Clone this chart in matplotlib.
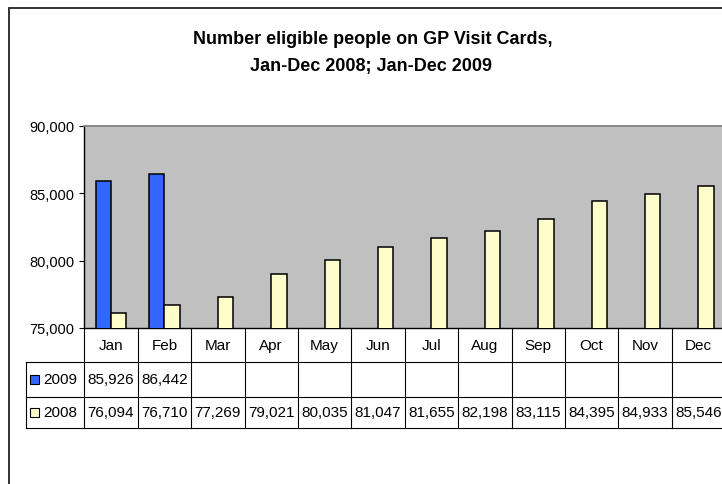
import matplotlib
matplotlib.use("Agg")
import matplotlib.pyplot as plt
import numpy as np
from matplotlib.patches import Rectangle
from matplotlib.lines import Line2D

# ---------------- data ----------------
months = ["Jan", "Feb", "Mar", "Apr", "May", "Jun", "Jul", "Aug", "Sep", "Oct", "Nov", "Dec"]
values_2009 = [85926, 86442, None, None, None, None, None, None, None, None, None, None]
values_2008 = [76094, 76710, 77269, 79021, 80035, 81047, 81655, 82198, 83115, 84395, 84933, 85546]
series_labels = ["2009", "2008"]
y_ticks = [75000, 80000, 85000, 90000]
title_lines = ["Number eligible people on GP Visit Cards,", "Jan-Dec 2008; Jan-Dec 2009"]

# ---------------- styles ----------------
plt.rcParams['font.family'] = ['Liberation Sans', 'DejaVu Sans']
col_2009 = '#3366FF'
col_2008 = '#FFFFCC'
plot_bg = '#C0C0C0'

W, H = 722, 485
fig = plt.figure(figsize=(W / 100, H / 100), dpi=100)
fig.patch.set_facecolor('white')


def fx(x):
    return x / W


def fy(y):
    return 1 - y / H


left, right, top, bottom = 84.3, 725.1, 127.0, 329.0
n = len(months)
colw = (right - left) / n

ax = fig.add_axes([fx(left), fy(bottom), (right - left) / W, (bottom - top) / H])
ax.set_facecolor(plot_bg)

x = np.arange(n)
bw = 0.29
x09 = [i for i, v in enumerate(values_2009) if v is not None]
v09 = [v for v in values_2009 if v is not None]
ax.bar(np.array(x09) - bw / 2, v09, width=bw, color=col_2009, edgecolor='black', linewidth=1.1, zorder=3)
ax.bar(x + bw / 2, values_2008, width=bw, color=col_2008, edgecolor='black', linewidth=1.1, zorder=3)

ax.set_xlim(-0.5, n - 0.5)
ax.set_ylim(y_ticks[0], y_ticks[-1])
ax.set_xticks([])
ax.set_yticks(y_ticks)
ax.set_yticklabels([f"{t:,}" for t in y_ticks])
ax.tick_params(axis='y', direction='out', length=3.6, width=0.8, pad=3.5, labelsize=10.5, colors='black')
for s in ['left', 'bottom']:
    ax.spines[s].set_color('black')
    ax.spines[s].set_linewidth(1.0)
ax.spines['top'].set_color('#808080')
ax.spines['top'].set_linewidth(1.3)
ax.spines['right'].set_color('#808080')

# ---------------- data table ----------------
row_y = [329.0, 363.0, 398.0, 429.0]
tab_left = 26.0
lc = 'black'
lw = 0.8


def hline(y, x0, x1):
    fig.add_artist(Line2D([fx(x0), fx(x1)], [fy(y), fy(y)], transform=fig.transFigure, color=lc, lw=lw))


def vline(xp, y0, y1):
    fig.add_artist(Line2D([fx(xp), fx(xp)], [fy(y0), fy(y1)], transform=fig.transFigure, color=lc, lw=lw))


for y in row_y[1:]:
    hline(y, tab_left, right + 5)
for i in range(n + 1):
    vline(left + i * colw, row_y[0], row_y[3])
vline(tab_left, row_y[1], row_y[3])

for i, m in enumerate(months):
    cx = left + (i + 0.5) * colw
    fig.text(fx(cx), fy((row_y[0] + row_y[1]) / 2), m, ha='center', va='center', fontsize=11)
    v = values_2009[i]
    if v is not None:
        fig.text(fx(cx), fy((row_y[1] + row_y[2]) / 2), f"{v:,}", ha='center', va='center', fontsize=11)
    fig.text(fx(cx), fy((row_y[2] + row_y[3]) / 2), f"{values_2008[i]:,}", ha='center', va='center', fontsize=11)

for r, (lab, col) in enumerate(zip(series_labels, [col_2009, col_2008])):
    cy = (row_y[r + 1] + row_y[r + 2]) / 2
    sq = 8.5
    fig.add_artist(Rectangle((fx(30), fy(cy + sq / 2)), sq / W, sq / H, transform=fig.transFigure,
                             facecolor=col, edgecolor='black', lw=0.8))
    fig.text(fx(43), fy(cy), lab, ha='left', va='center', fontsize=11)

# ---------------- title ----------------
fig.text(fx(373), fy(44), title_lines[0], ha='center', va='baseline', fontsize=13, fontweight='bold')
fig.text(fx(371), fy(70.5), title_lines[1], ha='center', va='baseline', fontsize=13, fontweight='bold')

# ---------------- outer chart border ----------------
fig.add_artist(Rectangle((fx(9), fy(500)), (740 - 9) / W, (500 - 9) / H, transform=fig.transFigure,
                         fill=False, edgecolor='#222222', lw=1.3))

fig.savefig("out.png", dpi=100)
